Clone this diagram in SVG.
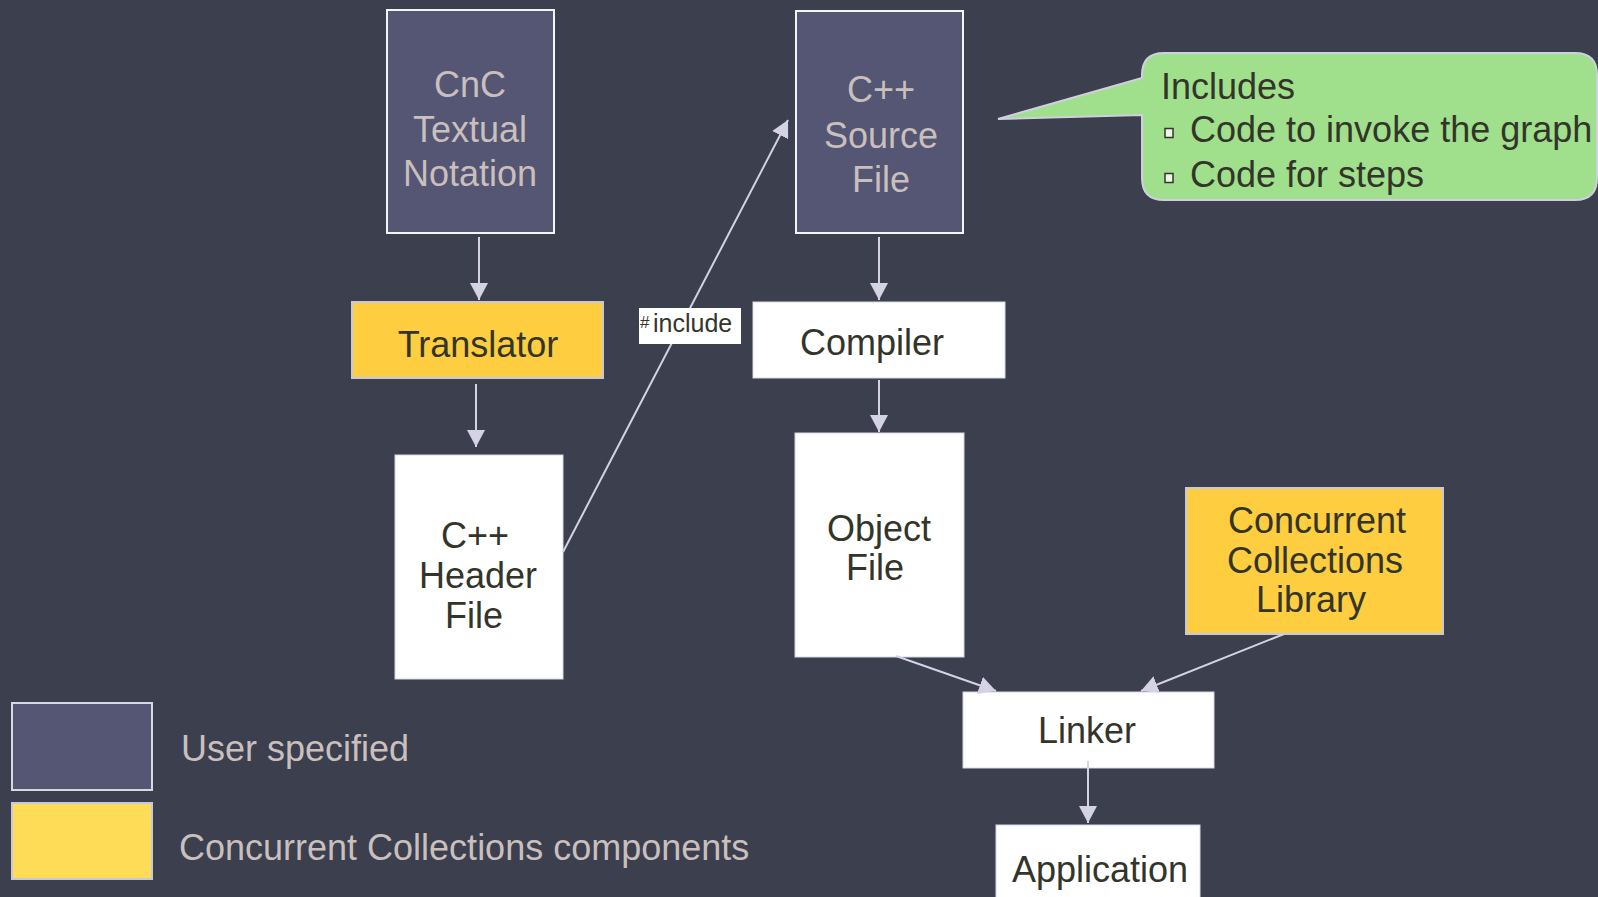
<svg xmlns="http://www.w3.org/2000/svg" width="1598" height="897" viewBox="0 0 1598 897">
<style>
text{font-family:"Liberation Sans",Arial,sans-serif;font-size:36px;text-anchor:middle}
.lt{fill:#c9bfbd}
.dk{fill:#33352a}
.purple{fill:#545673;stroke:#f4f4f8;stroke-width:2}
.yellow{fill:#fecd40;stroke:#c8c8dc;stroke-width:2}
.white{fill:#ffffff;stroke:#d8d8e2;stroke-width:1}
.conn line{stroke:#d4d2e4;stroke-width:2;fill:none;marker-end:url(#ah)}
</style>
<defs>
<marker id="ah" viewBox="0 0 17 18" refX="17" refY="9" markerWidth="17" markerHeight="18" orient="auto" markerUnits="userSpaceOnUse">
<path d="M0,0 L17,9 L0,18 z" fill="#d4d2e4"/>
</marker>
</defs>
<rect width="1598" height="897" fill="#3b3f4e"/>

<g id="cnc">
<rect class="purple" x="387" y="10" width="167" height="223"/>
<text class="lt" x="470" y="97">CnC</text>
<text class="lt" x="470" y="142">Textual</text>
<text class="lt" x="470" y="186">Notation</text>
</g>

<g id="translator">
<rect class="yellow" x="352" y="302" width="251" height="76"/>
<text class="dk" x="478" y="357">Translator</text>
</g>

<g id="header">
<rect class="white" x="395" y="455" width="168" height="224"/>
<text class="dk" x="475" y="548">C++</text>
<text class="dk" x="478" y="588">Header</text>
<text class="dk" x="474" y="628">File</text>
</g>

<g id="source">
<rect class="purple" x="796" y="11" width="167" height="222"/>
<text class="lt" x="881" y="102">C++</text>
<text class="lt" x="881" y="148">Source</text>
<text class="lt" x="881" y="192">File</text>
</g>

<g id="compiler">
<rect class="white" x="753" y="302" width="252" height="76"/>
<text class="dk" x="872" y="355">Compiler</text>
</g>

<g id="object">
<rect class="white" x="795" y="433" width="169" height="224"/>
<text class="dk" x="879" y="541">Object</text>
<text class="dk" x="875" y="580">File</text>
</g>

<g id="library">
<rect class="yellow" x="1186" y="488" width="257" height="146"/>
<text class="dk" x="1317" y="533">Concurrent</text>
<text class="dk" x="1315" y="573">Collections</text>
<text class="dk" x="1311" y="612">Library</text>
</g>

<g id="linker">
<rect class="white" x="963" y="692" width="251" height="76"/>
<text class="dk" x="1087" y="743">Linker</text>
</g>

<g id="application">
<rect class="white" x="996" y="825" width="204" height="80"/>
<text class="dk" x="1100" y="882">Application</text>
</g>

<g id="callout">
<path d="M1164,53 H1575 Q1597,53 1597,75 V178 Q1597,200 1575,200 H1164 Q1142,200 1142,178 V115 L998,119 L1142,78 V75 Q1142,53 1164,53 Z" fill="#a0df8c" stroke="#cfcfe0" stroke-width="2"/>
<text class="dk" x="1161" y="99" style="text-anchor:start">Includes</text>
<rect x="1165" y="128.5" width="8" height="9" fill="#eef6e8" stroke="#33352a" stroke-width="1.5"/>
<text class="dk" x="1190" y="142" style="text-anchor:start">Code to invoke the graph</text>
<rect x="1165" y="173.5" width="8" height="9" fill="#eef6e8" stroke="#33352a" stroke-width="1.5"/>
<text class="dk" x="1190" y="187" style="text-anchor:start">Code for steps</text>
</g>

<g id="legend">
<rect x="12" y="703" width="140" height="87" fill="#545673" stroke="#d8d8e4" stroke-width="2"/>
<text class="lt" x="181" y="761" style="text-anchor:start">User specified</text>
<rect x="12" y="803" width="140" height="76" fill="#fedc57" stroke="#c8c8dc" stroke-width="2"/>
<text class="lt" x="179" y="860" style="text-anchor:start">Concurrent Collections components</text>
</g>

<g id="connectors" class="conn">
<line x1="479" y1="237" x2="479" y2="300"/>
<line x1="476" y1="384" x2="476" y2="447"/>
<line x1="563" y1="552" x2="788" y2="120"/>
<line x1="879" y1="237" x2="879" y2="300"/>
<line x1="879" y1="380" x2="879" y2="432"/>
<line x1="896" y1="656" x2="996" y2="691"/>
<line x1="1284" y1="634" x2="1141" y2="691"/>
<line x1="1088" y1="761" x2="1088" y2="823"/>
</g>

<g id="include-label">
<rect x="639" y="308" width="102" height="36" fill="#ffffff"/>
<text class="dk" x="640" y="328" style="text-anchor:start;font-size:17px">#</text>
<text class="dk" x="653" y="332" style="text-anchor:start;font-size:25px">include</text>
</g>
</svg>
